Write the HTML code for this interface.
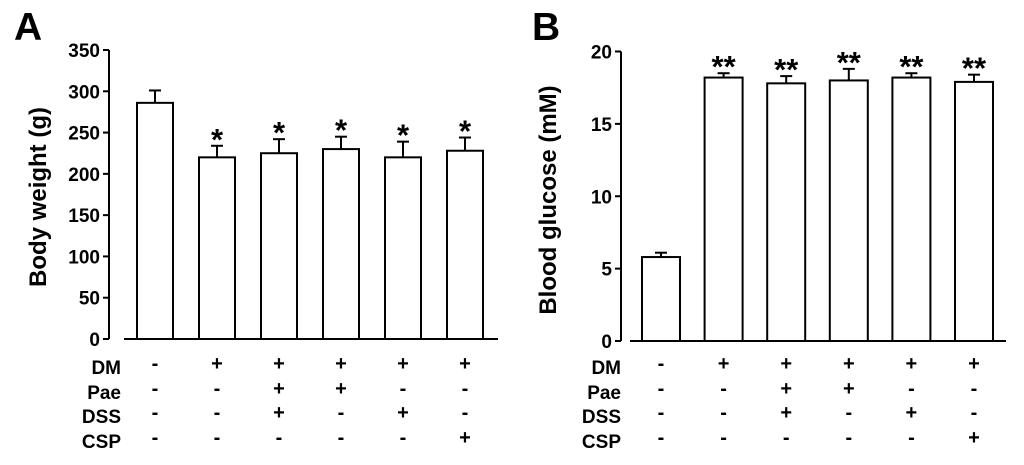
<!DOCTYPE html>
<html><head><meta charset="utf-8"><style>
body{margin:0;background:#fff;}
svg{display:block;font-family:"Liberation Sans",Arial,sans-serif;font-weight:bold;}
</style></head><body>
<svg id="fig" width="1024" height="465" viewBox="0 0 1024 465" xmlns="http://www.w3.org/2000/svg"></svg>
<script>
const groupsA = ["g1","g2","g3","g4","g5","g6"];
const weightMeans = [286, 220, 225, 230, 220, 228];
const weightErr = [15, 14, 17, 15, 19, 16];
const weightSig = ["", "*", "*", "*", "*", "*"];
const weightTicks = [0, 50, 100, 150, 200, 250, 300, 350];
const glucoseMeans = [5.8, 18.2, 17.8, 18.0, 18.2, 17.9];
const glucoseErr = [0.3, 0.3, 0.5, 0.8, 0.3, 0.5];
const glucoseSig = ["", "**", "**", "**", "**", "**"];
const glucoseTicks = [0, 5, 10, 15, 20];
const rowLabels = ["DM", "Pae", "DSS", "CSP"];
const treatDM = ["-", "+", "+", "+", "+", "+"];
const treatPae = ["-", "-", "+", "+", "-", "-"];
const treatDSS = ["-", "-", "+", "-", "+", "-"];
const treatCSP = ["-", "-", "-", "-", "-", "+"];

const NS = "http://www.w3.org/2000/svg";
const svg = document.getElementById("fig");
function mk(tag, attrs, parent){const e=document.createElementNS(NS,tag);for(const k in attrs)e.setAttribute(k,attrs[k]);(parent||svg).appendChild(e);return e;}

function panel(cfg){
  const g = mk("g",{});
  
  
  const y = v => cfg.y0 - (v - 0) / cfg.max * (cfg.y0 - cfg.yTop);
  const x = i => cfg.xFirst + i * cfg.step;
  const L = mk("text",{x:cfg.letterX,y:40,"font-size":39},g); L.textContent=cfg.letter;
  
  
  const ax = mk("line",{x1:cfg.axisX,x2:cfg.axisX,y1:y(cfg.max),y2:y(0),stroke:"#000","stroke-width":2},g);
  
  
  cfg.ticks.forEach(t=>{
    mk("line",{x1:cfg.axisX-6,x2:cfg.axisX,y1:y(t),y2:y(t),stroke:"#000","stroke-width":2},g);
    const tl = mk("text",{x:cfg.axisX-9,y:y(t)+7,"font-size":19,"text-anchor":"end"},g);
    tl.textContent=t;
    
    
  });
  const yt = mk("text",{transform:`translate(${cfg.titleX},${cfg.titleY}) rotate(-90)`,"font-size":24,"text-anchor":"middle"},g);
  yt.textContent = cfg.title;
  
  
  const bl = mk("line",{x1:cfg.baseX1,x2:cfg.baseX2,y1:y(0),y2:y(0),stroke:"#000","stroke-width":2},g);
  
  
  cfg.means.forEach((m,i)=>{
    const cx = x(i) + cfg.bw/2;
    const et = y(m + cfg.err[i]);
    mk("line",{x1:cx,x2:cx,y1:y(m),y2:et,stroke:"#000","stroke-width":2},g);
    mk("line",{x1:cx-6,x2:cx+6,y1:et,y2:et,stroke:"#000","stroke-width":2},g);
    const r = mk("rect",{x:x(i),y:y(m),width:cfg.bw,height:y(0)-y(m),fill:"#fff",stroke:"#000","stroke-width":2},g);
    
    
    if(cfg.sig[i]){
      const s = mk("text",{x:cx,y:et+4,"font-size":31,"text-anchor":"middle"},g);
      s.textContent = cfg.sig[i];
      
      
    }
  });
  const rows=[treatDM,treatPae,treatDSS,treatCSP];
  const rowY=[374,399,423,448];
  rowLabels.forEach((lab,r)=>{
    const t = mk("text",{x:cfg.rowLabelX,y:rowY[r],"font-size":19,"text-anchor":"end"},g);
    t.textContent=lab;
    
    
    rows[r].forEach((v,i)=>{
      const c = mk("text",{x:x(i)+cfg.bw/2,y:rowY[r]-4,"font-size":20,"text-anchor":"middle"},g);
      c.textContent=v;
      
      
    });
  });
}
panel({name:"panel-a-body-weight",letter:"A",letterX:14,axisX:109,yTop:50,y0:339,max:350,ticks:weightTicks,
  title:"Body weight (g)",titleX:46,titleY:197,baseX1:124,baseX2:498,xFirst:137,step:62,bw:36,
  means:weightMeans,err:weightErr,sig:weightSig,rowLabelX:121});
panel({name:"panel-b-blood-glucose",letter:"B",letterX:532,axisX:621,yTop:51.5,y0:341,max:20,ticks:glucoseTicks,
  title:"Blood glucose (mM)",titleX:556,titleY:200,baseX1:630,baseX2:1006,xFirst:642,step:62.6,bw:38,
  means:glucoseMeans,err:glucoseErr,sig:glucoseSig,rowLabelX:621});
</script>
</body></html>
